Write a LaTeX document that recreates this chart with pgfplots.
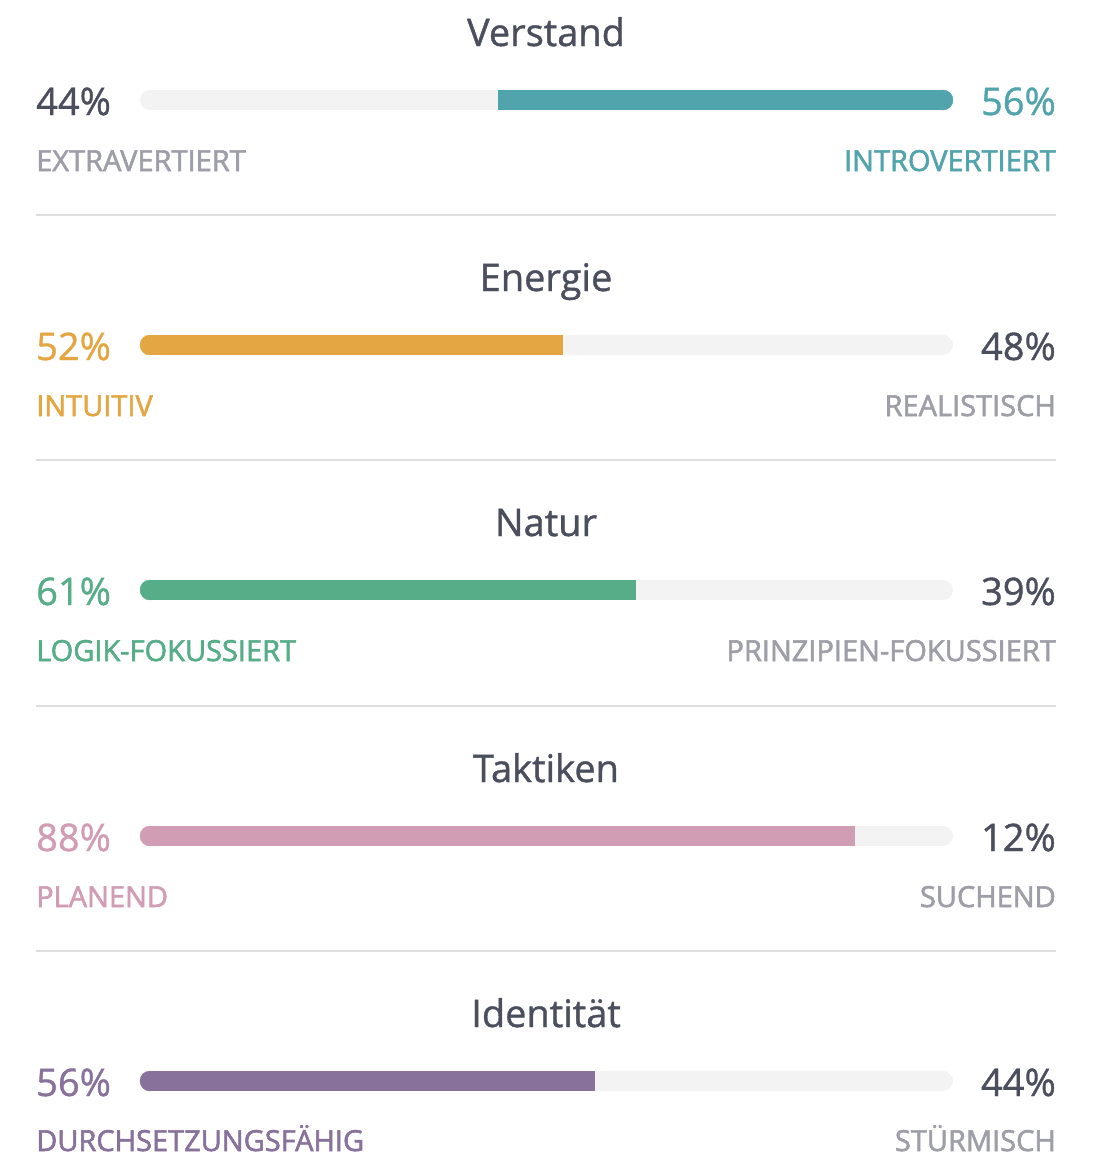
\documentclass[border=0pt]{standalone}
\usepackage{pgfplots}
\pgfplotsset{compat=1.18}
\usepackage{fontspec}
\setmainfont[FakeBold=1.0]{Open Sans}
\newfontfamily\labelfont[FakeBold=2.0]{Open Sans}
\definecolor{cteal}{HTML}{51A4AB}
\definecolor{cgold}{HTML}{E4A642}
\definecolor{cgreen}{HTML}{56AD87}
\definecolor{cpink}{HTML}{D19DB4}
\definecolor{cpurple}{HTML}{88719A}
\definecolor{ctrack}{HTML}{F3F3F3}
\definecolor{cdark}{HTML}{4B4E5D}
\definecolor{cgray}{HTML}{9E9EA8}
\definecolor{cdiv}{HTML}{DEDEDE}
\pgfplotsset{
  track/.style={line width=20pt, line cap=round, color=ctrack},
  seg/.style={line width=20pt, line cap=butt, color=#1},
  cap/.style={only marks, mark=*, mark size=10pt, color=#1, mark options={draw=none, fill=#1}},
  divl/.style={line width=2pt, color=cdiv},
}
\tikzset{
  ttl/.style={anchor=base, inner sep=0pt, font=\fontsize{38}{42}\selectfont, text=cdark},
  pctl/.style={anchor=base west, inner sep=0pt, font=\fontsize{38}{42}\selectfont, text=#1},
  pctr/.style={anchor=base east, inner sep=0pt, font=\fontsize{38}{42}\selectfont, text=#1},
  labl/.style={anchor=base west, inner sep=0pt, font=\labelfont\fontsize{29}{32}\selectfont, text=#1},
  labr/.style={anchor=base east, inner sep=0pt, font=\labelfont\fontsize{29}{32}\selectfont, text=#1},
}
\begin{document}
\begin{tikzpicture}
\begin{axis}[scale only axis, width=1103pt, height=1157pt,
  xmin=-17.2202, xmax=118.4502, ymin=0, ymax=1157, y dir=reverse,
  hide axis, clip=false]
\path (rel axis cs:0,0) rectangle (rel axis cs:1,1);
% ---- Verstand (56% right)
\addplot[track] coordinates {(1.23,100) (98.77,100)};
\addplot[seg=cteal] coordinates {(44,100) (98.77,100)};
\addplot[cap=cteal] coordinates {(98.77,100)};
\node[ttl] at (axis cs:49.94,46) {Verstand};
\node[pctl=cdark] at (axis cs:-12.79,115) {44\%};
\node[pctr=cteal] at (axis cs:112.67,115) {56\%};
\node[labl=cgray] at (axis cs:-12.79,171) {EXTRAVERTIERT};
\node[labr=cteal] at (axis cs:112.67,171) {INTROVERTIERT};
\addplot[divl] coordinates {(-12.79,215) (112.67,215)};
% ---- Energie (52% left)
\addplot[track] coordinates {(1.23,345) (98.77,345)};
\addplot[seg=cgold] coordinates {(1.23,345) (52,345)};
\addplot[cap=cgold] coordinates {(1.23,345)};
\node[ttl] at (axis cs:49.94,291) {Energie};
\node[pctl=cgold] at (axis cs:-12.79,360) {52\%};
\node[pctr=cdark] at (axis cs:112.67,360) {48\%};
\node[labl=cgold] at (axis cs:-12.79,416) {INTUITIV};
\node[labr=cgray] at (axis cs:112.67,416) {REALISTISCH};
\addplot[divl] coordinates {(-12.79,460) (112.67,460)};
% ---- Natur (61% left)
\addplot[track] coordinates {(1.23,590) (98.77,590)};
\addplot[seg=cgreen] coordinates {(1.23,590) (61,590)};
\addplot[cap=cgreen] coordinates {(1.23,590)};
\node[ttl] at (axis cs:49.94,536) {Natur};
\node[pctl=cgreen] at (axis cs:-12.79,605) {61\%};
\node[pctr=cdark] at (axis cs:112.67,605) {39\%};
\node[labl=cgreen] at (axis cs:-12.79,661) {LOGIK-FOKUSSIERT};
\node[labr=cgray] at (axis cs:112.67,661) {PRINZIPIEN-FOKUSSIERT};
\addplot[divl] coordinates {(-12.79,706) (112.67,706)};
% ---- Taktiken (88% left)
\addplot[track] coordinates {(1.23,836) (98.77,836)};
\addplot[seg=cpink] coordinates {(1.23,836) (88,836)};
\addplot[cap=cpink] coordinates {(1.23,836)};
\node[ttl] at (axis cs:49.94,782) {Taktiken};
\node[pctl=cpink] at (axis cs:-12.79,851) {88\%};
\node[pctr=cdark] at (axis cs:112.67,851) {12\%};
\node[labl=cpink] at (axis cs:-12.79,907) {PLANEND};
\node[labr=cgray] at (axis cs:112.67,907) {SUCHEND};
\addplot[divl] coordinates {(-12.79,951) (112.67,951)};
% ---- Identitaet (56% left)
\addplot[track] coordinates {(1.23,1081) (98.77,1081)};
\addplot[seg=cpurple] coordinates {(1.23,1081) (56,1081)};
\addplot[cap=cpurple] coordinates {(1.23,1081)};
\node[ttl] at (axis cs:49.94,1027) {Identität};
\node[pctl=cpurple] at (axis cs:-12.79,1096) {56\%};
\node[pctr=cdark] at (axis cs:112.67,1096) {44\%};
\node[labl=cpurple] at (axis cs:-12.79,1151) {DURCHSETZUNGSFÄHIG};
\node[labr=cgray] at (axis cs:112.67,1151) {STÜRMISCH};
\end{axis}
\end{tikzpicture}
\end{document}
